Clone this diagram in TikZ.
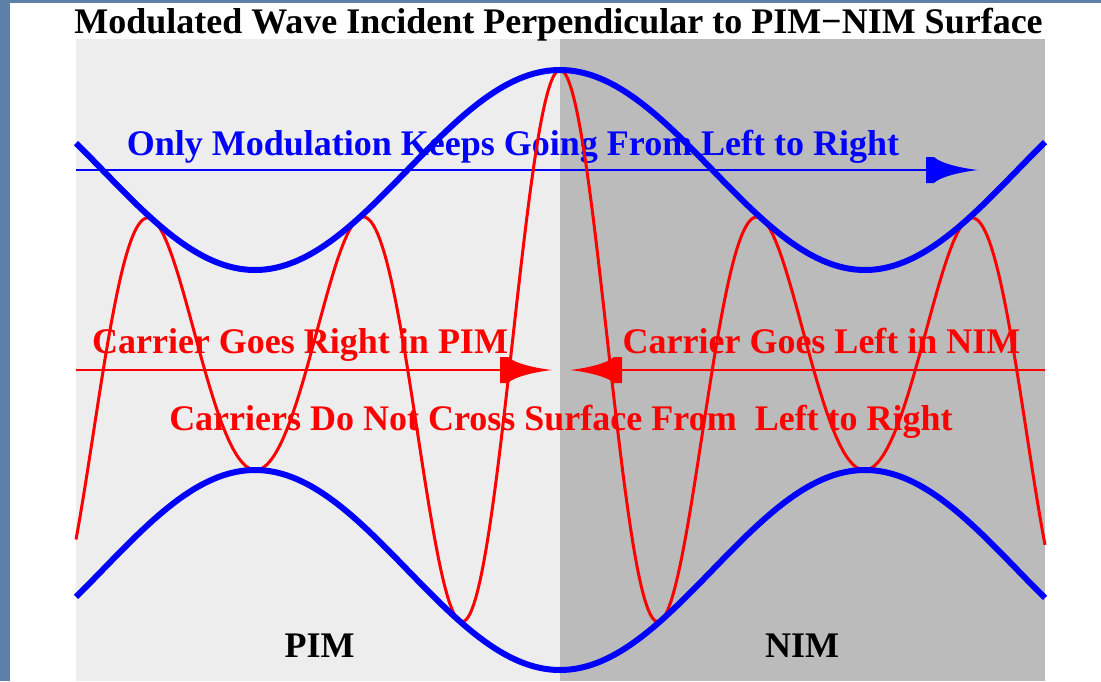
\documentclass[tikz,border=0pt]{standalone}
\usepackage{fontspec}
\setmainfont{Liberation Serif}
\begin{document}
\begin{tikzpicture}[x=1pt,y=-1pt,
  txt/.style={inner sep=0pt, anchor=base, font=\bfseries\fontsize{36}{40}\selectfont},
  envelope/.style={draw=envblue, line width=6pt},
  carrier/.style={draw=carred, line width=3pt, line join=round},
  ahead/.pic={\fill (0,0) .. controls (-18,-2) and (-38,-7) .. (-44,-13) -- (-52,-13) -- (-52,13) -- (-44,13) .. controls (-38,7) and (-18,2) .. (0,0) -- cycle;}
]
\definecolor{slide}{HTML}{5E7FA8}
\definecolor{envblue}{HTML}{0000FF}
\definecolor{carred}{HTML}{FF0000}
\definecolor{pimgray}{HTML}{EDEDED}
\definecolor{nimgray}{HTML}{BBBBBB}
% background
\useasboundingbox (0,0) rectangle (1101,681);
\fill[slide] (0,0) rectangle (1101,681);
\fill[white] (10,3) rectangle (1101,681);
\fill[pimgray] (76,39) rectangle (560,681);
\fill[nimgray] (560,39) rectangle (1045,681);
% title
\node[txt] (title) at (558.5,33) {Modulated Wave Incident Perpendicular to PIM\textminus NIM Surface};
% blue axis arrow
\coordinate (bstart) at (76,170);
\coordinate (btip) at (978,170);
\draw[envblue, line width=2pt] (bstart) -- ([xshift=-44pt]btip);
\pic[envblue] at (btip) {ahead};
% red axis arrows
\coordinate (rstart) at (76,370);
\coordinate (rtip) at (552,370);
\coordinate (lstart) at (1045,370);
\coordinate (ltip) at (570,370);
\draw[carred, line width=1.5pt] (rstart) -- ([xshift=-44pt]rtip);
\draw[carred, line width=1.5pt] (lstart) -- ([xshift=44pt]ltip);
\pic[carred] at (rtip) {ahead};
\pic[carred, xscale=-1] at (ltip) {ahead};
% texts
\node[txt, text=envblue] (mod) at (513,155) {Only Modulation Keeps Going From Left to Right};
\node[txt, text=carred] (cpim) at (300,353) {Carrier Goes Right in PIM};
\node[txt, text=carred] (cnim) at (821.5,353) {Carrier Goes Left in NIM};
\node[txt, text=carred] (cross) at (561,430) {Carriers Do Not Cross Surface From\ \ Left to Right};
\node[txt] (pim) at (319.5,657) {PIM};
\node[txt] (nim) at (802,657) {NIM};
% carrier
\draw[carrier] plot[domain=76:1045, samples=500, smooth] (\x, {370-(200+100*cos((\x-560)*0.590164))*cos((\x-560)*1.773399)});
% envelope
\draw[envelope] plot[domain=76:1045, samples=200, smooth] (\x, {370-(200+100*cos((\x-560)*0.590164))});
\draw[envelope] plot[domain=76:1045, samples=200, smooth] (\x, {370+(200+100*cos((\x-560)*0.590164))});
\end{tikzpicture}
\end{document}
